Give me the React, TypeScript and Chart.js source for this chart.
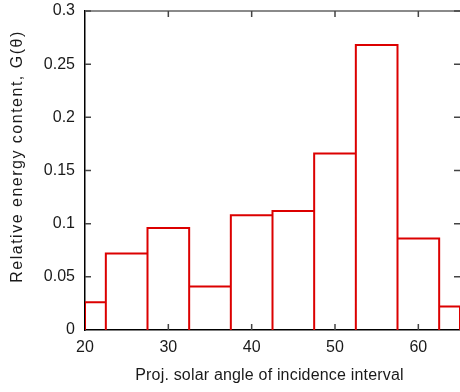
import { useEffect, useRef } from "react";
import { Chart, registerables } from "chart.js";

Chart.register(...registerables);

// Histogram bins (projected solar angle of incidence, degrees)
const binEdges = [17.5, 22.5, 27.5, 32.5, 37.5, 42.5, 47.5, 52.5, 57.5, 62.5, 67.5];
// Relative energy content G(theta) per bin
const energyContent = [0.026, 0.072, 0.096, 0.041, 0.108, 0.112, 0.166, 0.268, 0.086, 0.022];

const xMin = 20;
const xMax = 65;
const xTickValues = [20, 30, 40, 50, 60];
const xTickLabels = ["20", "30", "40", "50", "60"];
const yMin = 0;
const yMax = 0.3;
const yTickValues = [0, 0.05, 0.1, 0.15, 0.2, 0.25, 0.3];
const yTickLabels = ["0", "0.05", "0.1", "0.15", "0.2", "0.25", "0.3"];

const xTitle = "Proj. solar angle of incidence interval";
const yTitle = "Relative energy content, G(\u03b8)";

const RED = "#dc0000";
const TEXT = "#1a1a1a";
const FONT = "'Liberation Sans', Arial, Helvetica, sans-serif";

function buildOutline() {
  const pts: { x: number; y: number | null }[] = [];
  for (let i = 0; i < energyContent.length; i++) {
    const lo = Math.max(binEdges[i], xMin);
    const hi = Math.min(binEdges[i + 1], xMax);
    const v = energyContent[i];
    pts.push({ x: lo, y: 0 });
    pts.push({ x: lo, y: v });
    pts.push({ x: hi, y: v });
    pts.push({ x: hi, y: 0 });
    pts.push({ x: hi, y: null });
  }
  return pts;
}

const frameAndTitles = {
  id: "frameAndTitles",
  afterDatasetsDraw(chart: any) {
    const { ctx, chartArea, scales } = chart;
    const { left, right, top, bottom } = chartArea;
    const x = scales.x;
    const y = scales.y;
    const L = 6;
    ctx.save();
    // top frame line
    ctx.strokeStyle = "#8a8a8a";
    ctx.lineWidth = 2;
    ctx.beginPath();
    ctx.moveTo(left, top);
    ctx.lineTo(right, top);
    ctx.stroke();
    // inward tick marks on all four sides
    ctx.strokeStyle = "#444";
    ctx.lineWidth = 1.5;
    ctx.beginPath();
    x.ticks.forEach((t: any) => {
      const px = x.getPixelForValue(t.value);
      if (px <= left + 1) return;
      ctx.moveTo(px, bottom);
      ctx.lineTo(px, bottom - L);
      ctx.moveTo(px, top);
      ctx.lineTo(px, top + L);
    });
    y.ticks.forEach((t: any) => {
      const py = y.getPixelForValue(t.value);
      if (py >= bottom - 1) return;
      ctx.moveTo(left, py);
      ctx.lineTo(left + L, py);
      ctx.moveTo(right, py);
      ctx.lineTo(right - L, py);
    });
    ctx.stroke();
    ctx.restore();
  },
  afterDraw(chart: any) {
    const { ctx, chartArea } = chart;
    ctx.save();
    ctx.fillStyle = TEXT;
    ctx.font = `16px ${FONT}`;
    ctx.textAlign = "center";
    ctx.textBaseline = "middle";
    // x-axis title
    (ctx as any).letterSpacing = "0.18px";
    ctx.fillText(xTitle, (chartArea.left + chartArea.right) / 2 - 3, 376);
    // y-axis title (rotated)
    (ctx as any).letterSpacing = "1.5px";
    ctx.translate(18, (chartArea.top + chartArea.bottom) / 2 - 14);
    ctx.rotate(-Math.PI / 2);
    ctx.fillText(yTitle, 0, 0);
    ctx.restore();
  },
};

export default function App() {
  const canvasRef = useRef<HTMLCanvasElement | null>(null);

  useEffect(() => {
    const canvas = canvasRef.current;
    if (!canvas) return;
    const chart = new Chart(canvas, {
      type: "scatter",
      data: {
        datasets: [
          {
            data: buildOutline() as any,
            showLine: true,
            spanGaps: false,
            borderColor: RED,
            backgroundColor: RED,
            borderWidth: 2,
            pointRadius: 0,
            pointHoverRadius: 0,
            tension: 0,
          },
        ],
      },
      options: {
        animation: false,
        responsive: true,
        maintainAspectRatio: false,
        events: [],
        layout: { padding: { top: 11, right: 0, bottom: 0, left: 0 } },
        plugins: {
          legend: { display: false },
          tooltip: { enabled: false },
        },
        scales: {
          x: {
            type: "linear",
            min: xMin,
            max: xMax,
            afterBuildTicks: (scale: any) => {
              scale.ticks = xTickValues.map((v) => ({ value: v }));
            },
            afterFit: (scale: any) => {
              scale.height = 62;
              scale.paddingLeft = 0;
              scale.paddingRight = 0;
            },
            ticks: {
              includeBounds: false,
              padding: 8,
              color: TEXT,
              font: { family: FONT, size: 16 },
              callback: (_v: any, i: number) => xTickLabels[i],
              maxRotation: 0,
              autoSkip: false,
            },
            grid: { display: true, drawOnChartArea: false, drawTicks: false },
            border: { display: true, color: "#000", width: 1.5 },
            title: { display: false, text: xTitle },
          },
          y: {
            type: "linear",
            min: yMin,
            max: yMax,
            afterBuildTicks: (scale: any) => {
              scale.ticks = yTickValues.map((v) => ({ value: v }));
            },
            afterFit: (scale: any) => {
              scale.width = 85;
              scale.paddingTop = 0;
              scale.paddingBottom = 0;
            },
            ticks: {
              padding: 10,
              color: TEXT,
              font: { family: FONT, size: 16 },
              callback: (_v: any, i: number) => yTickLabels[i],
              autoSkip: false,
            },
            grid: { display: true, drawOnChartArea: false, drawTicks: false },
            border: { display: true, color: "#000", width: 1.5 },
            title: { display: false, text: yTitle },
          },
        },
      },
      plugins: [frameAndTitles],
    });
    return () => chart.destroy();
  }, []);

  return (
    <div style={{ position: "absolute", left: 0, top: 0, width: 460, height: 392, background: "#fff" }}>
      <canvas ref={canvasRef} />
    </div>
  );
}
